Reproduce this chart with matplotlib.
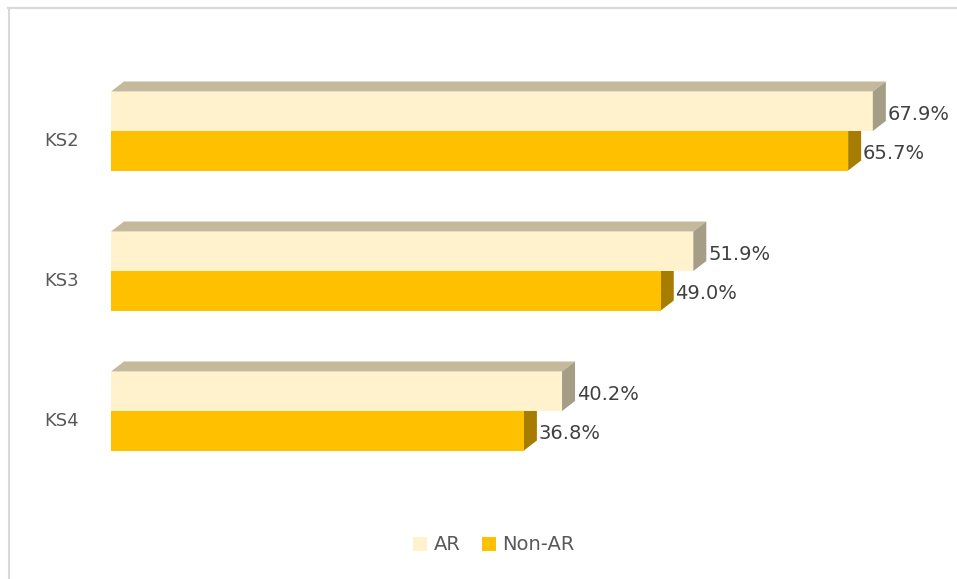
import matplotlib.pyplot as plt
from matplotlib.patches import Polygon, Patch
from matplotlib.lines import Line2D

# Key stage attainment, AR vs Non-AR pupils
stages = ['KS2', 'KS3', 'KS4']
ar_values = [67.9, 51.9, 40.2]
non_ar_values = [65.7, 49.0, 36.8]

ar_front = '#FFF2CC'
ar_top = '#C4B99B'
ar_side = '#A59D85'
non_front = '#FFC000'
non_side = '#A67D00'

W, H = 957, 579
fig = plt.figure(figsize=(W / 100, H / 100), dpi=100)

# axes start where the bars start; 11.22 px per percent, 140 px per category
px_per_pct = 11.22
px_per_cat = 140.0
ax = fig.add_axes([111 / W, 0, (W - 111) / W, 1])
ax.set_xlim(0, (W - 111) / px_per_pct)
ax.set_ylim((H - 131) / px_per_cat, -131 / px_per_cat)
ax.axis('off')

h = 39.5 / px_per_cat          # height of each bar
dx = 13 / px_per_pct           # depth offset, horizontal
dy = 10 / px_per_cat           # depth offset, vertical

for i, (a, n) in enumerate(zip(ar_values, non_ar_values)):
    # Non-AR bar (lower)
    ax.barh(i + h / 2, n, height=h, color=non_front, linewidth=0, zorder=2)
    ax.add_patch(Polygon([(n, i), (n + dx, i - dy), (n + dx, i + h - dy), (n, i + h)],
                         closed=True, facecolor=non_side, linewidth=0, zorder=1))
    # AR bar (upper)
    ax.barh(i - h / 2, a, height=h, color=ar_front, linewidth=0, zorder=3)
    yt = i - h
    ax.add_patch(Polygon([(0, yt), (dx, yt - dy), (a + dx, yt - dy), (a, yt)],
                         closed=True, facecolor=ar_top, linewidth=0, zorder=3))
    ax.add_patch(Polygon([(a, yt), (a + dx, yt - dy), (a + dx, i - dy), (a, i)],
                         closed=True, facecolor=ar_side, linewidth=0, zorder=3))

    ax.text(a + dx + 0.15, i - 0.121, f'{a:.1f}%', ha='left', va='center',
            fontsize=14, color='#404040')
    ax.text(n + dx + 0.12, i + 0.164, f'{n:.1f}%', ha='left', va='center',
            fontsize=14, color='#404040')
    ax.text(-2.85, i + 0.071, stages[i], ha='right', va='center',
            fontsize=13, color='#595959', clip_on=False)

# chart area border (top and left edges)
fig.add_artist(Line2D([8 / W, 1], [1 - 7.5 / H, 1 - 7.5 / H], color='#D9D9D9', lw=1.5))
fig.add_artist(Line2D([9 / W, 9 / W], [0, 1 - 7.5 / H], color='#D9D9D9', lw=1.5))

handles = [Patch(facecolor=ar_front, label='AR'), Patch(facecolor=non_front, label='Non-AR')]
fig.legend(handles=handles, loc='center', bbox_to_anchor=(494 / W, 1 - 545 / H), ncol=2,
           frameon=False, fontsize=14, labelcolor='#595959', handlelength=0.7,
           handleheight=0.7, handletextpad=0.35, columnspacing=1.1)

fig.savefig('out.png', dpi=100)
